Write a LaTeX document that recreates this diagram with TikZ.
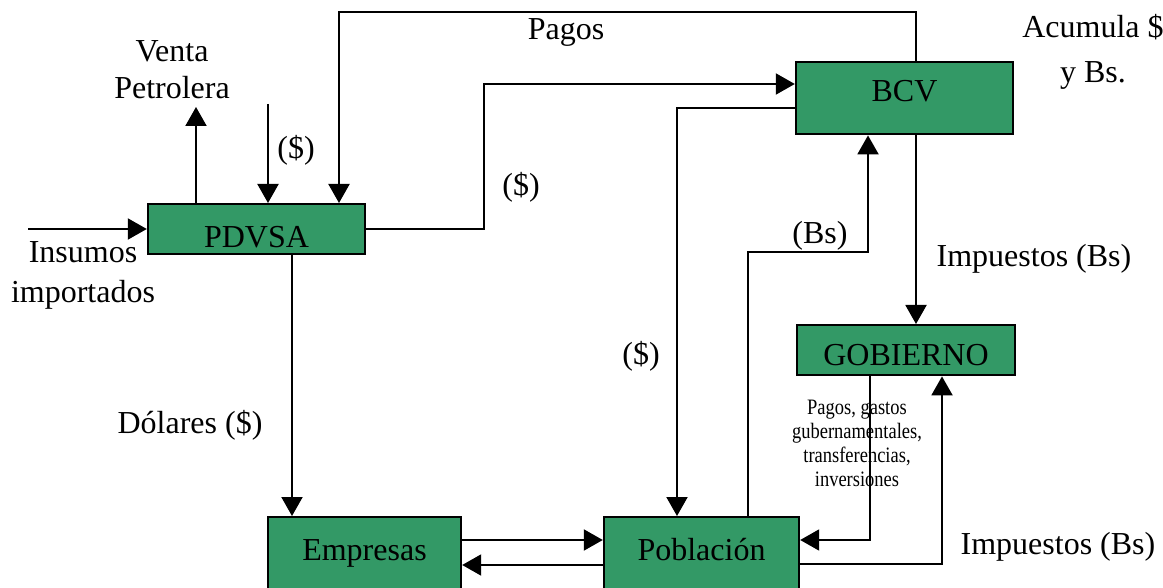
\documentclass[tikz,border=0pt]{standalone}
\usepackage{fontspec}
\setmainfont{Liberation Serif}
\newfontfamily\narrowfont[FakeStretch=0.84]{Liberation Serif}
\usetikzlibrary{arrows.meta}
\usetikzlibrary{positioning}
\definecolor{boxgreen}{RGB}{51,153,102}
\tikzset{box/.style = {draw, line width=1.2pt, fill=boxgreen, inner ysep=0pt,
                       anchor=north, font=\fontsize{16}{19}\selectfont}}
\tikzset{arr/.style = {line width=1pt, -{Triangle[length=9.5pt,width=10.5pt]}}}
\tikzset{lbl/.style = {font=\fontsize{16}{19}\selectfont, align=center, inner sep=0pt}}
\tikzset{small/.style = {font=\narrowfont\fontsize{11}{12}\selectfont, align=center, inner sep=0pt}}

\begin{document}
\begin{tikzpicture}[x=0.5pt,y=-0.5pt]
	\useasboundingbox (0,0) rectangle (1163,588);
	\clip (0,0) rectangle (1163,588);
	\node [box, minimum width=108.5pt, text height=21.5pt, text depth=3.5pt] (pdvsa) at (256.5,203) {PDVSA};
	\node [box, minimum width=108.5pt, text height=19.5pt, text depth=16.5pt] (bcv) at (904.5,61) {BCV};
	\node [box, minimum width=109pt, text height=20pt, text depth=5pt] (gob) at (906,324) {GOBIERNO};
	\node [box, minimum width=96.5pt, text height=21.5pt, text depth=50pt] (emp) at (364.5,516) {Empresas};
	\node [box, minimum width=97.5pt, text height=21.5pt, text depth=50pt] (pob) at (701.5,516) {Población};
	\coordinate (ins) at (28,229);
	\coordinate (venta) at (196,107);
	\coordinate (dol) at (268,104);
	\coordinate (pagos) at (339,12);
	\coordinate (pagosb) at (916,12);
	\coordinate (kp) at (484,84);
	\coordinate (kd) at (677,108);
	\coordinate (kb) at (748,252);
	\coordinate (kbb) at (868,252);
	\coordinate (kg) at (870,540);
	\coordinate (ki) at (942,564);
	\coordinate (ke) at (292,0);
	\coordinate (kep) at (0,540);
	\coordinate (kpe) at (0,565);
	\draw [arr] (ins) -- (ins -| pdvsa.west);
	\draw [arr] (venta |- pdvsa.north) -- (venta);
	\draw [arr] (dol) -- (dol |- pdvsa.north);
	\draw [arr] (pagosb |- bcv.north) -- (pagosb) -- (pagos) -- (pagos |- pdvsa.north);
	\draw [arr] (pdvsa.east) -| (kp) -- (kp -| bcv.west);
	\draw [arr] (kd -| bcv.west) -- (kd) -- (kd |- pob.north);
	\draw [arr] (kb |- pob.north) -- (kb) -- (kbb) -- (kbb |- bcv.south);
	\draw [arr] (pagosb |- bcv.south) -- (pagosb |- gob.north);
	\draw [arr] (kg |- gob.south) -- (kg) -- (kg -| pob.east);
	\draw [arr] (ki -| pob.east) -- (ki) -- (ki |- gob.south);
	\draw [arr] (ke |- pdvsa.south) -- (ke |- emp.north);
	\draw [arr] (kep -| emp.east) -- (kep -| pob.west);
	\draw [arr] (kpe -| pob.west) -- (kpe -| emp.east);
	\node [lbl, font=\fontsize{16}{18.5}\selectfont] (tventa) at (172,70) {Venta\\Petrolera};
	\node [lbl] (tdol) at (296,150) {(\$)};
	\node [lbl] (tpagos) at (566,32) {Pagos};
	\node [lbl, font=\fontsize{16}{22.5}\selectfont] (tacum) at (1093,52) {Acumula \$\\y Bs.};
	\node [lbl] (tkp) at (521,187) {(\$)};
	\node [lbl, font=\fontsize{16}{20}\selectfont] (tins) at (83,275) {Insumos\\importados};
	\node [lbl] (tbs) at (820,236) {(Bs)};
	\node [lbl] (timp) at (1034,259) {Impuestos (Bs)};
	\node [lbl] (tkd) at (641,356) {(\$)};
	\node [lbl] (tdolares) at (190,425) {Dólares (\$)};
	\node [small] (tgastos) at (857,443) {Pagos, gastos\\gubernamentales,\\transferencias,\\inversiones};
	\node [lbl] (timpb) at (1058,547) {Impuestos (Bs)};
\end{tikzpicture}
\end{document}
